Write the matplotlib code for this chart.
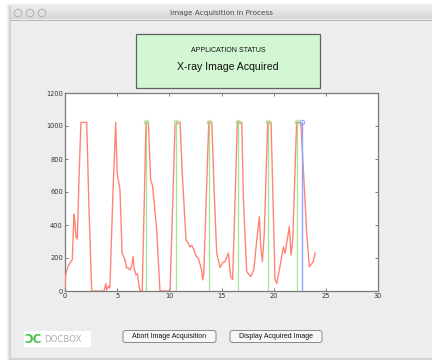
"""Recreate the 'Image Acquisition in Process' window with its signal trace."""

import matplotlib
matplotlib.use("Agg")
import matplotlib.pyplot as plt
import numpy as np
from matplotlib.patches import Rectangle, FancyBboxPatch, Circle

# red trace: sensor signal over time
TIME_S = [0.00, 0.05, 0.13, 0.30, 0.45, 0.70, 0.86, 0.95, 1.05, 1.18, 1.35, 1.53, 2.08, 2.30, 2.56,
          3.75, 3.90, 4.00, 4.15, 4.30, 4.60, 4.86, 5.00, 5.27, 5.47, 5.75, 5.91, 6.00, 6.23, 6.40,
          6.52, 6.62, 6.80, 6.93, 7.06, 7.19, 7.40, 7.77, 7.99, 8.21, 8.40, 8.79, 9.10, 10.07,
          10.55, 10.70, 11.03, 11.25, 11.60, 11.80, 11.96, 12.14, 12.30, 12.46, 12.60, 12.78,
          13.10, 13.20, 13.30, 13.78, 14.07, 14.30, 14.54, 14.86, 15.12, 15.34, 15.66, 15.88,
          16.07, 16.52, 16.94, 17.10, 17.26, 17.42, 17.80, 18.10, 18.38, 18.63, 18.76, 18.92,
          19.10, 19.43, 19.75, 19.97, 20.13, 20.30, 20.60, 20.93, 21.09, 21.25, 21.50, 21.67,
          21.83, 22.20, 22.60, 22.90, 23.17, 23.42, 23.66, 23.80, 23.97]
SIGNAL = [20, 90, 117, 150, 168, 190, 465, 420, 330, 315, 700, 1022, 1022, 500, 0,
          0, 45, 5, 30, 18, 600, 1022, 715, 612, 230, 188, 140, 143, 127, 158,
          208, 140, 97, 105, 48, 0, 0, 1022, 1022, 672, 636, 370, 0, 0,
          1006, 1022, 1022, 700, 309, 290, 268, 277, 257, 230, 208, 198,
          127, 67, 108, 1022, 1022, 600, 230, 143, 172, 178, 230, 87,
          70, 1022, 1022, 560, 330, 117, 87, 127, 309, 450, 268, 178,
          350, 1022, 1022, 472, 67, 46, 147, 268, 228, 290, 390, 218,
          309, 1022, 1022, 672, 350, 147, 167, 178, 230]

# detected triggers (green) and the acquisition moment (blue)
TRIGGER_S = [7.72, 10.67, 13.78, 16.55, 19.45, 22.28]
ACQUIRE_S = [22.70]
PEAK_LEVEL = 1022

X_TICKS = [0, 5, 10, 15, 20, 25, 30]
Y_TICKS = [0, 200, 400, 600, 800, 1000, 1200]

W, H = 432, 360
fig = plt.figure(figsize=(W / 100, H / 100), dpi=100, facecolor="white")

# window chrome drawn in pixel coordinates
bg = fig.add_axes([0, 0, 1, 1])
bg.set_xlim(0, W)
bg.set_ylim(H, 0)
bg.axis("off")

for i, a in enumerate([0.02, 0.03, 0.05, 0.07]):
    bg.add_patch(Rectangle((6 + i, 3 + i), W, H, facecolor="black", alpha=a, lw=0))
bg.add_patch(Rectangle((10, 6), W - 10, H - 8, facecolor="#ededed", edgecolor="#cfcfcf", lw=0.6))
shade = np.linspace(0.93, 0.84, 20)
bar = np.repeat(shade[:, None, None], 3, axis=2) * np.ones((20, 2, 3))
bg.imshow(bar, extent=(10.5, W, 19.5, 6.5), aspect="auto", zorder=2, interpolation="bilinear")
bg.plot([10, W], [19.5, 19.5], color="#b4b4b4", lw=0.7, zorder=3)
for cx in (18, 30, 42):
    bg.add_patch(Circle((cx, 13), 3.8, facecolor="#e0e0e0", edgecolor="#a8a8a8", lw=0.6, zorder=3))
bg.text(221, 13.2, "Image Acquisition in Process", fontsize=5.2, color="#4a4a4a",
        ha="center", va="center", zorder=4)

# status panel
bg.add_patch(Rectangle((136, 34), 184, 54, facecolor="#d2f7d2", edgecolor="#606060", lw=0.9))
bg.text(228, 50.5, "APPLICATION STATUS", fontsize=5.0, ha="center", va="center",
        family="Liberation Sans", color="#111111")
bg.text(228, 66.5, "X-ray Image Acquired", fontsize=7.6, ha="center", va="center",
        family="Liberation Sans", color="#111111")

# buttons
for (x0, x1, label) in [(123, 216, "Abort Image Acquisition"), (230, 322, "Display Acquired Image")]:
    bg.add_patch(FancyBboxPatch((x0, 330.5), x1 - x0, 12, boxstyle="round,pad=0,rounding_size=2.5",
                                facecolor="#f7f7f7", edgecolor="#8a8a8a", lw=0.7))
    bg.text((x0 + x1) / 2, 336.5, label, fontsize=5.0, ha="center", va="center",
            family="Liberation Sans", color="#111111")

# logo
bg.add_patch(Rectangle((24, 331), 67, 16, facecolor="white", lw=0))
bg.text(33, 339.5, "\u0186C", fontsize=8.5, ha="center", va="center", color="#4cc24c",
        fontweight="bold")
bg.text(63, 339.5, "DOCBOX", fontsize=6.2, ha="center", va="center", color="#b0b0b0",
        family="DejaVu Sans")

# signal plot
ax = fig.add_axes([65 / W, 1 - 291 / H, 313 / W, 198 / H])
ax.set_facecolor("white")
ax.plot(TIME_S, SIGNAL, color="#ff8474", lw=1.0, zorder=3)
for t in TRIGGER_S:
    ax.plot([t, t], [0, PEAK_LEVEL], color="#a2e892", lw=0.9, zorder=2)
    ax.plot([t], [PEAK_LEVEL], marker="o", ms=3.2, mfc="none", mec="#a2e892", mew=0.8, zorder=4)
for t in ACQUIRE_S:
    ax.plot([t, t], [0, PEAK_LEVEL], color="#8ca6ff", lw=1.0, zorder=4)
    ax.plot([t], [PEAK_LEVEL], marker="o", ms=3.2, mfc="none", mec="#8ca6ff", mew=0.8, zorder=5)

ax.set_xlim(0, 30)
ax.set_ylim(0, 1200)
ax.set_xticks(X_TICKS)
ax.set_yticks(Y_TICKS)
ax.tick_params(direction="in", length=2, width=0.6, colors="#666666", labelsize=4.8,
               labelcolor="#333333", top=True, right=True, pad=1.5)
for s in ax.spines.values():
    s.set_color("#7a7a7a")
    s.set_linewidth(0.9)

fig.savefig("out.png", dpi=100, facecolor="white")
